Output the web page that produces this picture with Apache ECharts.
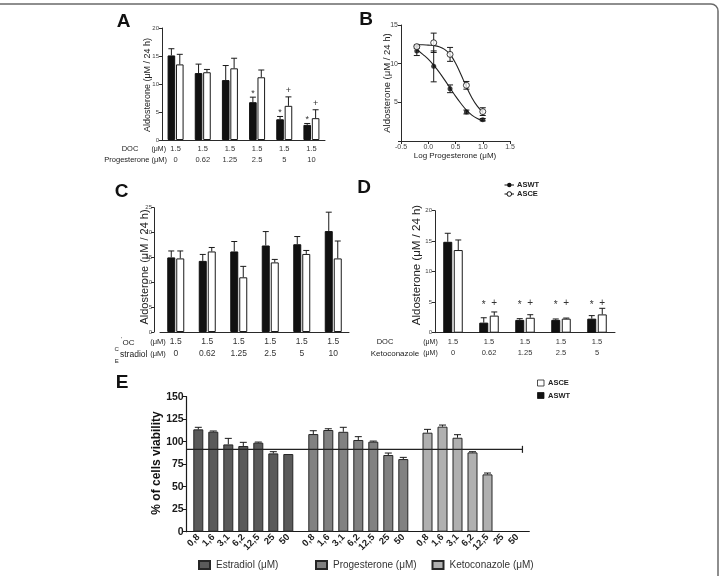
<!DOCTYPE html>
<html><head><meta charset="utf-8">
<script src="https://cdn.jsdelivr.net/npm/echarts@6/dist/echarts.min.js"></script>
<style>html,body{margin:0;padding:0;background:#fff}#c{width:720px;height:576px}</style>
</head><body><div id="c"></div>
<script>
// ---------------- DATA ----------------
// Panel A : progesterone dose (µM), DOC 1.5 µM
const concA = ['0', '0.62', '1.25', '2.5', '5', '10'];
const docA = ['1.5', '1.5', '1.5', '1.5', '1.5', '1.5'];
const aswtA = [15.1, 11.95, 10.7, 6.75, 3.7, 2.7];
const aswtErrA = [1.2, 1.6, 2.6, 0.9, 0.5, 0.25];
const asceA = [13.5, 12.1, 12.8, 11.2, 6.1, 3.9];
const asceErrA = [1.8, 0.5, 1.8, 1.3, 1.6, 1.5];
const aswtMarkA = ['', '', '', '*', '*', '*'];
const asceMarkA = ['', '', '', '', '+', '+'];

// Panel B : log progesterone dose-response
const logProgB = [-0.21, 0.10, 0.40, 0.70, 1.00];
const aswtB = [11.65, 9.65, 6.75, 3.75, 2.75];
const aswtErrB = [0.6, 2.0, 0.5, 0.25, 0.15];
const asceB = [12.2, 12.7, 11.2, 7.2, 3.8];
const asceErrB = [0.2, 1.25, 0.9, 0.5, 0.5];
const curveXB = [-0.22, -0.1, 0.0, 0.1, 0.2, 0.3, 0.4, 0.5, 0.6, 0.7, 0.8, 0.9, 1.0];
const aswtCurveB = [11.9, 11.2, 10.6, 9.8, 8.9, 7.9, 6.85, 5.8, 4.85, 4.0, 3.35, 2.9, 2.6];
const asceCurveB = [12.45, 12.45, 12.4, 12.35, 12.2, 11.85, 11.2, 10.1, 8.6, 7.0, 5.6, 4.5, 3.7];

// Panel C : estradiol dose (µM)
const concC = ['0', '0.62', '1.25', '2.5', '5', '10'];
const docC = ['1.5', '1.5', '1.5', '1.5', '1.5', '1.5'];
const aswtC = [15.0, 14.3, 16.2, 17.4, 17.65, 20.3];
const aswtErrC = [1.3, 1.3, 2.0, 2.8, 1.55, 3.8];
const asceC = [14.8, 16.2, 11.0, 14.0, 15.7, 14.8];
const asceErrC = [1.5, 0.8, 2.2, 0.6, 0.7, 3.5];

// Panel D : ketoconazole dose (µM)
const concD = ['0', '0.62', '1.25', '2.5', '5'];
const docD = ['1.5', '1.5', '1.5', '1.5', '1.5'];
const aswtD = [14.9, 1.65, 2.1, 2.1, 2.3];
const aswtErrD = [1.4, 0.8, 0.2, 0.15, 0.5];
const asceD = [13.55, 2.8, 2.45, 2.3, 3.0];
const asceErrD = [1.65, 0.6, 0.5, 0.1, 1.0];
const aswtMarkD = ['', '*', '*', '*', '*'];
const asceMarkD = ['', '+', '+', '+', '+'];
const markLevelD = 4.9;

// Panel E : % of cells viability
const concE = ['0,8', '1,6', '3,1', '6,2', '12,5', '25', '50'];
const estradiolE = [113.7, 111.1, 97.0, 95.2, 98.9, 87.0, 86.3];
const estradiolErrE = [2.3, 0.8, 6.7, 4.1, 0.7, 1.9, 0];
const progesteroneE = [108.5, 113.0, 111.0, 101.9, 100.0, 85.2, 80.7];
const progesteroneErrE = [3.7, 1.4, 5.0, 3.7, 0.7, 2.2, 1.9];
const ketoconazoleE = [110.0, 116.7, 104.4, 88.1, 63.7, null, null];
const ketoconazoleErrE = [3.7, 1.8, 3.4, 0.8, 1.5, 0, 0];
const viabilityRef = 91.5;

// ---------------- STYLE / BUILD ----------------
const F = '"Liberation Sans", Arial, sans-serif';
const AX = '#2a2a2a';
const BLACK = '#111111';
const chart = echarts.init(document.getElementById('c'), null, {renderer: 'canvas'});

function makeErr(errs, offset, cap, marks, markLevel, markFont) {
  return function (params, api) {
    const i = params.dataIndex;
    const v = api.value(1);
    if (v == null || isNaN(v)) return null;
    const e = errs[i] || 0;
    const p0 = api.coord([i, v]);
    const p1 = api.coord([i, v + e]);
    const x = p0[0] + offset;
    const ls = {stroke: '#1a1a1a', lineWidth: 1};
    const children = [];
    if (e > 0) {
      children.push({type: 'line', shape: {x1: x, y1: p0[1], x2: x, y2: p1[1]}, style: ls});
      children.push({type: 'line', shape: {x1: x - cap, y1: p1[1], x2: x + cap, y2: p1[1]}, style: ls});
    }
    const m = marks && marks[i];
    if (m) {
      const y = markLevel != null ? api.coord([i, markLevel])[1] + (m === '*' ? 2 : 0)
                                  : p1[1] - (m === '*' ? 4 : 6.5);
      children.push({type: 'text', style: {text: m, x: x, y: y, align: 'center', verticalAlign: 'middle',
        font: markFont || ('9px ' + F), fill: '#333'}});
    }
    return {type: 'group', children: children};
  };
}
function makeErrXY(xs, ys, errs, cap) {
  return function (params, api) {
    const i = params.dataIndex;
    const lo = api.coord([xs[i], ys[i] - errs[i]]);
    const hi = api.coord([xs[i], ys[i] + errs[i]]);
    const ls = {stroke: '#1a1a1a', lineWidth: 1};
    return {type: 'group', children: [
      {type: 'line', shape: {x1: lo[0], y1: lo[1], x2: hi[0], y2: hi[1]}, style: ls},
      {type: 'line', shape: {x1: lo[0] - cap, y1: lo[1], x2: lo[0] + cap, y2: lo[1]}, style: ls},
      {type: 'line', shape: {x1: hi[0] - cap, y1: hi[1], x2: hi[0] + cap, y2: hi[1]}, style: ls}
    ]};
  };
}

function catX(gi, cats, docs, fs, lh, margin) {
  return {gridIndex: gi, type: 'category', data: cats,
    axisLine: {lineStyle: {color: AX, width: 1}}, axisTick: {show: false},
    axisLabel: {interval: 0, margin: margin, fontSize: fs, lineHeight: lh, color: '#333', fontFamily: F,
      formatter: function (v, idx) { return docs[idx] + '\n' + v; }}};
}
function valY(gi, max, interval, fs, extra) {
  return Object.assign({gridIndex: gi, type: 'value', min: 0, max: max, interval: interval,
    axisLine: {show: true, onZero: false, lineStyle: {color: AX, width: 1}},
    axisTick: {show: true, length: 3, lineStyle: {color: AX}},
    axisLabel: {fontSize: fs, color: '#444', margin: 3, fontFamily: F},
    splitLine: {show: false}}, extra || {});
}
function barPair(xi, blackVals, whiteVals, bw, gapPx) {
  const gap = (gapPx / bw * 100) + '%';
  return [
    {type: 'bar', name: 'ASWT', xAxisIndex: xi, yAxisIndex: xi, data: blackVals, barWidth: bw, barGap: gap,
      itemStyle: {color: BLACK, borderColor: BLACK, borderWidth: 1}, z: 2},
    {type: 'bar', name: 'ASCE', xAxisIndex: xi, yAxisIndex: xi, data: whiteVals, barWidth: bw, barGap: gap,
      itemStyle: {color: '#ffffff', borderColor: '#1a1a1a', borderWidth: 1}, z: 2}
  ];
}
function errCustom(xi, vals, errs, offset, cap, marks, level, font) {
  return {type: 'custom', xAxisIndex: xi, yAxisIndex: xi, z: 3, silent: true,
    data: vals.map(function (v, i) { return [i, v]; }),
    renderItem: makeErr(errs, offset, cap, marks, level, font)};
}

const grids = [
  {left: 162, top: 28, width: 163, height: 112},        // A
  {left: 401, top: 25, width: 109, height: 116},        // B
  {left: 160, top: 207.7, width: 189, height: 124.3},   // C
  {left: 435, top: 210.7, width: 180, height: 122},     // D
  {left: 186.7, top: 396.7, width: 342.6, height: 135}, // E frame
  {left: 190.8, top: 396.7, width: 105, height: 135},   // E estradiol
  {left: 305.8, top: 396.7, width: 105, height: 135},   // E progesterone
  {left: 420, top: 396.7, width: 105, height: 135}      // E ketoconazole
].map(function (g) { return Object.assign({outerBoundsMode: 'none', containLabel: false}, g); });

const xAxes = [
  catX(0, concA, docA, 7.5, 11, 3.5),
  {gridIndex: 1, type: 'value', min: -0.5, max: 1.5, interval: 0.5,
    axisLine: {onZero: false, lineStyle: {color: AX}}, axisTick: {show: true, length: 3, lineStyle: {color: AX}},
    axisLabel: {fontSize: 7, color: '#444', margin: 3, fontFamily: F, formatter: function (v) { return v.toFixed(1); }},
    splitLine: {show: false}},
  catX(2, concC, docC, 8.5, 12, 4),
  catX(3, concD, docD, 7.5, 11, 4),
  {gridIndex: 4, type: 'value', min: 0, max: 100, axisLine: {onZero: false, lineStyle: {color: '#1a1a1a', width: 1.2}},
    axisTick: {show: false}, axisLabel: {show: false}, splitLine: {show: false}},
];
[5, 6, 7].forEach(function (gi) {
  xAxes.push({gridIndex: gi, type: 'category', data: concE, axisLine: {show: false}, axisTick: {show: false},
    axisLabel: {interval: 0, rotate: 45, margin: 4, fontSize: 9.5, fontWeight: 'bold', color: '#222', fontFamily: F}});
});

const yAxes = [
  valY(0, 20, 5, 6),
  valY(1, 15, 5, 7, {axisLabel: {fontSize: 7, color: '#444', margin: 3, fontFamily: F,
    formatter: function (v) { return v === 0 ? '' : v; }}}),
  valY(2, 25, 5, 6, {offset: 6, axisLabel: {fontSize: 6, color: '#444', margin: 2, fontFamily: F}}),
  valY(3, 20, 5, 6),
  valY(4, 150, 25, 10.5, {axisLine: {show: true, onZero: false, lineStyle: {color: '#1a1a1a', width: 1.2}},
    axisTick: {show: true, length: 4, lineStyle: {color: '#1a1a1a'}},
    axisLabel: {fontSize: 10.5, fontWeight: 'bold', color: '#1a1a1a', margin: 3, fontFamily: F}})
];
[5, 6, 7].forEach(function (gi) {
  yAxes.push({gridIndex: gi, type: 'value', min: 0, max: 150, show: false, splitLine: {show: false}});
});

const series = [];
// A
series.push.apply(series, barPair(0, aswtA, asceA, 7.6, 0.8));
series.push(errCustom(0, aswtA, aswtErrA, -4.2, 3, aswtMarkA, null));
series.push(errCustom(0, asceA, asceErrA, 4.2, 3, asceMarkA, null));
// C
series.push.apply(series, barPair(2, aswtC, asceC, 8, 1));
series.push(errCustom(2, aswtC, aswtErrC, -4.5, 3, null, null));
series.push(errCustom(2, asceC, asceErrC, 4.5, 3, null, null));
// D
series.push.apply(series, barPair(3, aswtD, asceD, 9, 1.5));
series.push(errCustom(3, aswtD, aswtErrD, -5.25, 3, aswtMarkD, markLevelD, '10px ' + F));
series.push(errCustom(3, asceD, asceErrD, 5.25, 3, asceMarkD, markLevelD, '10px ' + F));
// B
function zip(xs, ys) { return xs.map(function (x, i) { return [x, ys[i]]; }); }
series.push({type: 'line', xAxisIndex: 1, yAxisIndex: 1, data: zip(curveXB, aswtCurveB), smooth: 0.4,
  showSymbol: false, lineStyle: {color: '#222', width: 1.1}, z: 2, silent: true});
series.push({type: 'line', xAxisIndex: 1, yAxisIndex: 1, data: zip(curveXB, asceCurveB), smooth: 0.4,
  showSymbol: false, lineStyle: {color: '#222', width: 1.1}, z: 2, silent: true});
series.push({type: 'custom', xAxisIndex: 1, yAxisIndex: 1, z: 3, data: zip(logProgB, aswtB),
  renderItem: makeErrXY(logProgB, aswtB, aswtErrB, 3)});
series.push({type: 'custom', xAxisIndex: 1, yAxisIndex: 1, z: 3, data: zip(logProgB, asceB),
  renderItem: makeErrXY(logProgB, asceB, asceErrB, 3)});
series.push({type: 'scatter', xAxisIndex: 1, yAxisIndex: 1, data: zip(logProgB, aswtB), symbol: 'circle',
  symbolSize: 5, itemStyle: {color: BLACK}, z: 5});
series.push({type: 'scatter', xAxisIndex: 1, yAxisIndex: 1, data: zip(logProgB, asceB), symbol: 'circle',
  symbolSize: 6, itemStyle: {color: '#fff', borderColor: BLACK, borderWidth: 1}, z: 5});
// E
const eGroups = [
  {name: 'Estradiol (μM)', vals: estradiolE, errs: estradiolErrE, color: '#5a5a5a', xi: 5},
  {name: 'Progesterone (μM)', vals: progesteroneE, errs: progesteroneErrE, color: '#818181', xi: 6},
  {name: 'Ketoconazole (μM)', vals: ketoconazoleE, errs: ketoconazoleErrE, color: '#b0b0b0', xi: 7}
];
eGroups.forEach(function (g) {
  series.push({type: 'bar', name: g.name, xAxisIndex: g.xi, yAxisIndex: g.xi, data: g.vals, barWidth: 10,
    itemStyle: {color: g.color, borderColor: '#262626', borderWidth: 1}, z: 2});
  series.push(errCustom(g.xi, g.vals, g.errs, 0, 3.5, null, null));
});
series.push({type: 'line', xAxisIndex: 4, yAxisIndex: 4, silent: true, z: 4,
  data: [{value: [0, viabilityRef], symbol: 'none'},
         {value: [98, viabilityRef], symbol: 'rect', symbolSize: [1.2, 7]}],
  lineStyle: {color: '#222', width: 1.2}, itemStyle: {color: '#222'}, showSymbol: true});

const legends = [
  {left: 198, name: 'Estradiol (μM)'},
  {left: 315, name: 'Progesterone (μM)'},
  {left: 431.5, name: 'Ketoconazole (μM)'}
].map(function (l) {
  return {left: l.left, top: 560, data: [l.name], icon: 'rect', itemWidth: 11, itemHeight: 8, itemGap: 0,
    padding: 0, selectedMode: false, textStyle: {fontSize: 10, color: '#333', fontFamily: F, padding: [0, 0, 0, 1]}};
});

function T(x, y, text, font, extra) {
  return Object.assign({type: 'text', x: x, y: y, silent: true,
    style: Object.assign({text: text, font: font, fill: '#222', align: 'center', verticalAlign: 'middle'}, (extra || {}).style || {})},
    extra && extra.rotation ? {rotation: extra.rotation} : {});
}
const V = Math.PI / 2;
const graphics = [
  {type: 'rect', shape: {x: -10, y: 4, width: 728, height: 620, r: 7}, style: {fill: 'none', stroke: '#6a6a6a', lineWidth: 1.5}, silent: true},
  // panel letters
  T(123.5, 21.5, 'A', 'bold 19px ' + F, {style: {fill: '#111'}}),
  T(366, 20, 'B', 'bold 19px ' + F, {style: {fill: '#111'}}),
  T(121.7, 191.5, 'C', 'bold 19px ' + F, {style: {fill: '#111'}}),
  T(364, 187.5, 'D', 'bold 19px ' + F, {style: {fill: '#111'}}),
  T(122, 383, 'E', 'bold 19px ' + F, {style: {fill: '#111'}}),
  // y titles
  T(147.5, 85, 'Aldosterone (μM / 24 h)', '9px ' + F, {rotation: V}),
  T(387.5, 83, 'Aldosterone (μM / 24 h)', '9.5px ' + F, {rotation: V}),
  T(144.5, 267, 'Aldosterone (μM / 24 h)', '11px ' + F, {rotation: V}),
  T(416.7, 265, 'Aldosterone (μM / 24 h)', '11.5px ' + F, {rotation: V}),
  T(156.7, 463, '% of cells viability', 'bold 12px ' + F, {rotation: V, style: {fill: '#111'}}),
  // B x title
  T(455, 155.5, 'Log Progesterone (μM)', '8px ' + F),
  // A row headers
  T(130, 149, 'DOC', '7.5px ' + F),
  T(158.7, 149, '(μM)', '7px ' + F),
  T(167, 160, 'Progesterone (μM)', '7.5px ' + F, {style: {align: 'right'}}),
  // C row headers
  T(128.5, 342.3, 'OC', '8px ' + F),
  T(121.5, 340, 'ˈ', '8px ' + F),
  T(116.7, 349.5, 'C', '6px ' + F),
  T(116.7, 361.5, 'E', '6px ' + F),
  T(120, 354.3, 'stradiol', '8.5px ' + F, {style: {align: 'left'}}),
  T(158, 342.3, '(μM)', '7.5px ' + F),
  T(158, 354.3, '(μM)', '7.5px ' + F),
  // D row headers
  T(385, 342, 'DOC', '7.5px ' + F),
  T(430.5, 342, '(μM)', '7px ' + F),
  T(430.5, 353.3, '(μM)', '7px ' + F),
  T(395, 353.3, 'Ketoconazole', '8px ' + F),
  // legend of B (ASWT / ASCE) drawn in panel D area
  {type: 'line', shape: {x1: 504.5, y1: 185, x2: 514, y2: 185}, style: {stroke: '#111', lineWidth: 1}, silent: true},
  {type: 'circle', shape: {cx: 509.3, cy: 185, r: 2.2}, style: {fill: '#111'}, silent: true},
  T(517, 185, 'ASWT', 'bold 7.5px ' + F, {style: {align: 'left'}}),
  {type: 'line', shape: {x1: 504.5, y1: 194, x2: 514, y2: 194}, style: {stroke: '#111', lineWidth: 1}, silent: true},
  {type: 'circle', shape: {cx: 509.3, cy: 194, r: 2.3}, style: {fill: '#fff', stroke: '#111', lineWidth: 1}, silent: true},
  T(517, 194, 'ASCE', 'bold 7.5px ' + F, {style: {align: 'left'}}),
  // legend of E (top right)
  {type: 'rect', shape: {x: 537.5, y: 380, width: 6.5, height: 6}, style: {fill: '#fff', stroke: '#222', lineWidth: 0.8}, silent: true},
  T(548, 383, 'ASCE', 'bold 7.5px ' + F, {style: {align: 'left'}}),
  {type: 'rect', shape: {x: 537.5, y: 392.5, width: 6.5, height: 6}, style: {fill: '#111', stroke: '#111', lineWidth: 0.8}, silent: true},
  T(548, 395.5, 'ASWT', 'bold 7.5px ' + F, {style: {align: 'left'}})
];

chart.setOption({
  animation: false,
  backgroundColor: '#ffffff',
  textStyle: {fontFamily: F},
  grid: grids,
  xAxis: xAxes,
  yAxis: yAxes,
  legend: legends,
  series: series,
  graphic: graphics
});
</script>
</body></html>
